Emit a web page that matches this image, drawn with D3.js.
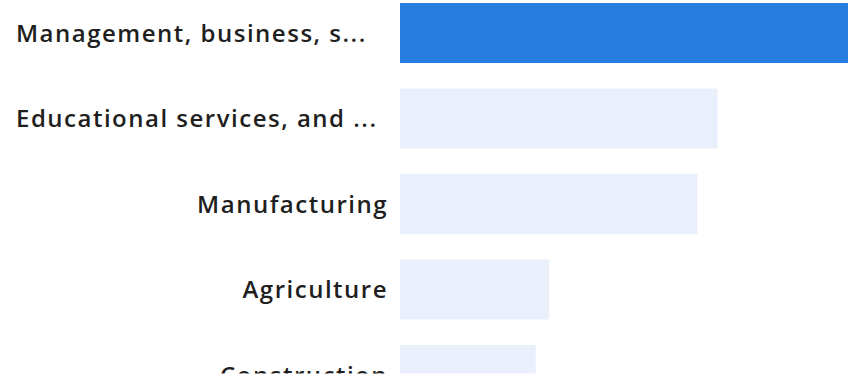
<!DOCTYPE html>
<html>
<head>
<meta charset="utf-8">
<script src="https://cdn.jsdelivr.net/npm/d3@7"></script>
<style>
  html, body { margin: 0; padding: 0; background: #ffffff; }
  svg { display: block; }
</style>
</head>
<body>
<div id="chart"></div>
<script>
// Industries shown, as they appear on the axis (long names already shortened)
const categories = [
  "Management, business, s...",
  "Educational services, and ...",
  "Manufacturing",
  "Agriculture",
  "Construction"
];
// Share of workers per industry (%)
const values = [33.0, 23.4, 21.9, 11.0, 10.0];
// The first industry is the highlighted one
const highlighted = [true, false, false, false, false];

const width = 855, height = 378;
const viewBottom = 373.5;   // the card crops the list here
const barLeft = 400, barRight = 848;
const labelRight = 388, labelLeft = 16;

const svg = d3.select("#chart").append("svg")
  .attr("width", width)
  .attr("height", height);

svg.append("defs").append("clipPath").attr("id", "view")
  .append("rect").attr("x", 0).attr("y", 0).attr("width", width).attr("height", viewBottom);

const g = svg.append("g").attr("clip-path", "url(#view)");

const x = d3.scaleLinear()
  .domain([0, d3.max(values)])
  .range([barLeft, barRight]);

const y = d3.scaleBand()
  .domain(categories)
  .range([3, 405])
  .paddingInner(0.298)
  .paddingOuter(0);

const rows = categories.map((c, i) => ({ c, v: values[i], hi: highlighted[i] }));

g.selectAll("rect.bar")
  .data(rows)
  .join("rect")
  .attr("class", "bar")
  .attr("x", x(0))
  .attr("y", d => y(d.c))
  .attr("width", d => x(d.v) - x(0))
  .attr("height", y.bandwidth())
  .attr("fill", d => d.hi ? "#277ee0" : "#eaf0fb");

// Category labels: right-aligned to the bars; shortened names start at the left margin
g.selectAll("text.label")
  .data(rows)
  .join("text")
  .attr("class", "label")
  .attr("x", d => d.c.endsWith("...") ? labelLeft : labelRight)
  .attr("y", d => y(d.c) + y.bandwidth() / 2)
  .attr("dy", "0.36em")
  .attr("text-anchor", d => d.c.endsWith("...") ? "start" : "end")
  .attr("font-family", "'Open Sans', sans-serif")
  .attr("font-weight", 600)
  .attr("font-size", 24)
  .attr("letter-spacing", "1.5px")
  .attr("fill", "#1f1f1f")
  .text(d => d.c);
</script>
</body>
</html>
